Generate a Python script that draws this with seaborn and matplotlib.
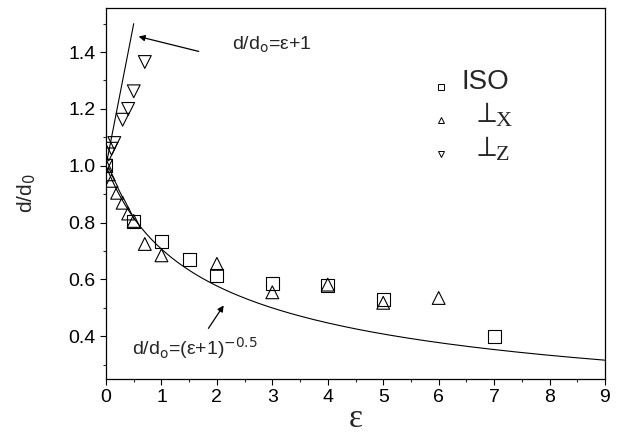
import numpy as np
import pandas as pd
import matplotlib
matplotlib.use("Agg")
import matplotlib.pyplot as plt
from matplotlib.ticker import MultipleLocator
import seaborn as sns

# ---- data ----
iso_x = [0.0, 0.5, 1.0, 1.5, 2.0, 3.0, 4.0, 5.0, 7.0]
iso_y = [1.0, 0.805, 0.735, 0.67, 0.615, 0.585, 0.58, 0.53, 0.40]

perpx_x = [0.0, 0.05, 0.1, 0.2, 0.3, 0.4, 0.5, 0.7, 1.0, 2.0, 3.0, 4.0, 5.0, 6.0]
perpx_y = [1.0, 0.97, 0.947, 0.905, 0.87, 0.832, 0.806, 0.725, 0.685, 0.655, 0.555, 0.582, 0.518, 0.535]

perpz_x = [0.0, 0.05, 0.1, 0.15, 0.3, 0.4, 0.5, 0.7]
perpz_y = [1.0, 1.04, 1.06, 1.08, 1.162, 1.20, 1.262, 1.365]

lin_eps = [0.0, 0.5]               # d/do = eps + 1
pow_eps = np.linspace(0, 9, 200)   # d/do = (eps+1)^-0.5

legend_labels = ["ISO", r"$\perp$", r"$\perp$"]
legend_subs = ["", "X", "Z"]

sns.set_style("ticks")
plt.rcParams['font.family'] = ['Liberation Sans', 'DejaVu Sans']
plt.rcParams['mathtext.fontset'] = 'dejavusans'

W, H = 621, 447
fig = plt.figure(figsize=(W / 100, H / 100), dpi=100)
ax = fig.add_axes([106 / W, 1 - 379 / H, (605 - 106) / W, (379 - 8) / H])

df_lin = pd.DataFrame({"x": lin_eps, "y": [e + 1 for e in lin_eps]})
df_pow = pd.DataFrame({"x": pow_eps, "y": (pow_eps + 1) ** -0.5})
sns.lineplot(data=df_lin, x="x", y="y", ax=ax, color="black", lw=0.8)
sns.lineplot(data=df_pow, x="x", y="y", ax=ax, color="black", lw=0.8)

kw = dict(facecolor="none", edgecolor="black", linewidth=0.8, s=85, ax=ax, zorder=3)
sns.scatterplot(x=iso_x, y=iso_y, marker="s", **kw)
sns.scatterplot(x=perpx_x, y=perpx_y, marker="^", **kw)
sns.scatterplot(x=perpz_x, y=perpz_y, marker="v", **kw)

ax.set_xlim(0, 9)
ax.set_ylim(0.25, 1.555)
ax.xaxis.set_major_locator(MultipleLocator(1))
ax.xaxis.set_minor_locator(MultipleLocator(0.5))
ax.set_yticks([0.4, 0.6, 0.8, 1.0, 1.2, 1.4])
ax.set_yticklabels(["0.4", "0.6", "0.8", "1.0", "1.2", "1.4"])
ax.yaxis.set_minor_locator(MultipleLocator(0.1))
ax.tick_params(which="major", length=4.5, width=0.8, labelsize=14, direction="out",
               colors="black", pad=3)
ax.tick_params(which="minor", length=2.5, width=0.8, direction="out")
for sp in ax.spines.values():
    sp.set_visible(True)
    sp.set_linewidth(0.9)
    sp.set_color("black")

ax.set_xlabel("ε", fontsize=24, family=["Liberation Serif", "DejaVu Serif"], labelpad=-2)
ax.set_ylabel(r"d/d$_\mathsf{0}$", fontsize=15, labelpad=22)

# annotations
ax.annotate("", xy=(0.54, 1.457), xytext=(1.72, 1.40),
            arrowprops=dict(arrowstyle="-|>", color="black", lw=0.9, mutation_scale=9))
ax.text(2.27, 1.425, r"d/d$_\mathsf{o}$=ε+1", fontsize=14, va="center", ha="left")
ax.annotate("", xy=(2.15, 0.517), xytext=(1.82, 0.42),
            arrowprops=dict(arrowstyle="-|>", color="black", lw=0.9, mutation_scale=9))
ax.text(0.46, 0.36, r"d/d$_\mathsf{o}$=(ε+1)$^{\mathsf{-0.5}}$", fontsize=14, va="center", ha="left")

# legend drawn by hand (axes fraction coordinates from pixel positions)
def axfrac(px, py):
    return (px - 106) / (605 - 106), (379 - py) / (379 - 8)

for mk, py, lab, sub, ms in zip(["s", "^", "v"], [87, 120, 154], legend_labels, legend_subs, [4.5, 5, 5]):
    mx, my = axfrac(441, py)
    ax.plot([mx], [my], ls="none", marker=mk, mfc="none", mec="black", ms=ms, mew=0.7,
            transform=ax.transAxes, clip_on=False)
    if sub == "":
        tx, ty = axfrac(462, py - 5)
        ax.text(tx, ty, lab, fontsize=20, transform=ax.transAxes, va="center", ha="left")
    else:
        tx, ty = axfrac(472, py + 2)
        ax.text(tx, ty, lab, fontsize=21, transform=ax.transAxes, va="baseline", ha="left",
                math_fontfamily="stix")
        sx, sy = axfrac(496, py + 6)
        ax.text(sx, sy, sub, fontsize=16, transform=ax.transAxes, va="baseline", ha="left",
                family=["Liberation Serif"])

fig.savefig("out.png", dpi=100)
